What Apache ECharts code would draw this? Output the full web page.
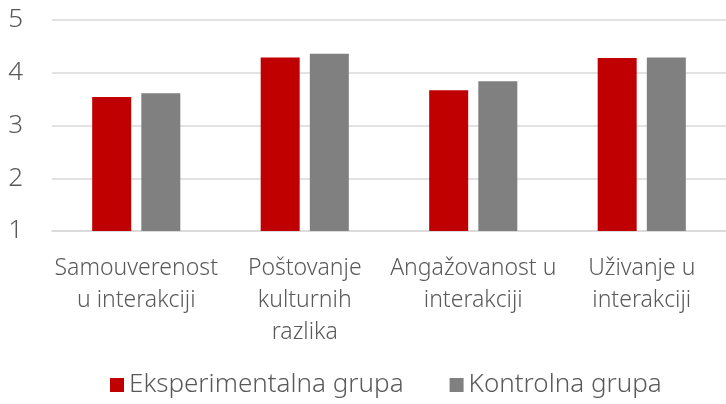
<!DOCTYPE html>
<html>
<head>
    <meta charset="UTF-8" />
    <title>grupe</title>
    <script type="text/javascript" src="https://cdnjs.cloudflare.com/ajax/libs/echarts/6.0.0/echarts.min.js"></script>
</head>
<body style="margin:0">

<div id="main" style="width: 726px;height: 404px;"></div>

<script>
    var categories = ['Samouverenost\nu interakciji', 'Poštovanje\nkulturnih\nrazlika', 'Angažovanost u\ninterakciji', 'Uživanje u\ninterakciji'];
    var eksperimentalna = [3.54, 4.29, 3.67, 4.28];
    var kontrolna = [3.61, 4.36, 3.84, 4.29];
    var yTicks = [1, 5, 1]; // min, max, interval

    var font = '"Noto Sans", sans-serif';
    var textColor = '#595959';

    var mychart = echarts.init(document.getElementById("main"));

    option = {
        animation: false,
        textStyle: {fontFamily: font},
        grid: {left: 52, width: 680, top: 20, height: 211},
        legend: {
            bottom: 1,
            left: 105,
            itemWidth: 14,
            itemHeight: 14,
            itemGap: 46,
            icon: 'rect',
            textStyle: {fontSize: 26, color: textColor, fontFamily: font, fontWeight: 300},
            data: ['Eksperimentalna grupa', 'Kontrolna grupa']
        },
        xAxis: {
            type: 'category',
            data: categories,
            axisLine: {lineStyle: {color: '#d9d9d9', width: 1.5}},
            axisTick: {show: false},
            axisLabel: {
                fontSize: 23, color: textColor, lineHeight: 32, margin: 21,
                interval: 0, fontFamily: font, fontWeight: 300
            }
        },
        yAxis: {
            type: 'value',
            min: yTicks[0],
            max: yTicks[1],
            interval: yTicks[2],
            axisLine: {show: false},
            axisTick: {show: false},
            splitLine: {lineStyle: {color: '#d9d9d9', width: 1.5}},
            axisLabel: {fontSize: 26, color: textColor, margin: 29, fontFamily: font, fontWeight: 300}
        },
        series: [
            {
                name: 'Eksperimentalna grupa',
                type: 'bar',
                data: eksperimentalna,
                barWidth: 39,
                barGap: '26%',
                itemStyle: {color: '#c00000'}
            },
            {
                name: 'Kontrolna grupa',
                type: 'bar',
                data: kontrolna,
                barWidth: 39,
                barGap: '26%',
                itemStyle: {color: '#808080'}
            }
        ]
    };

    mychart.setOption(option);
</script>

</body>
</html>
